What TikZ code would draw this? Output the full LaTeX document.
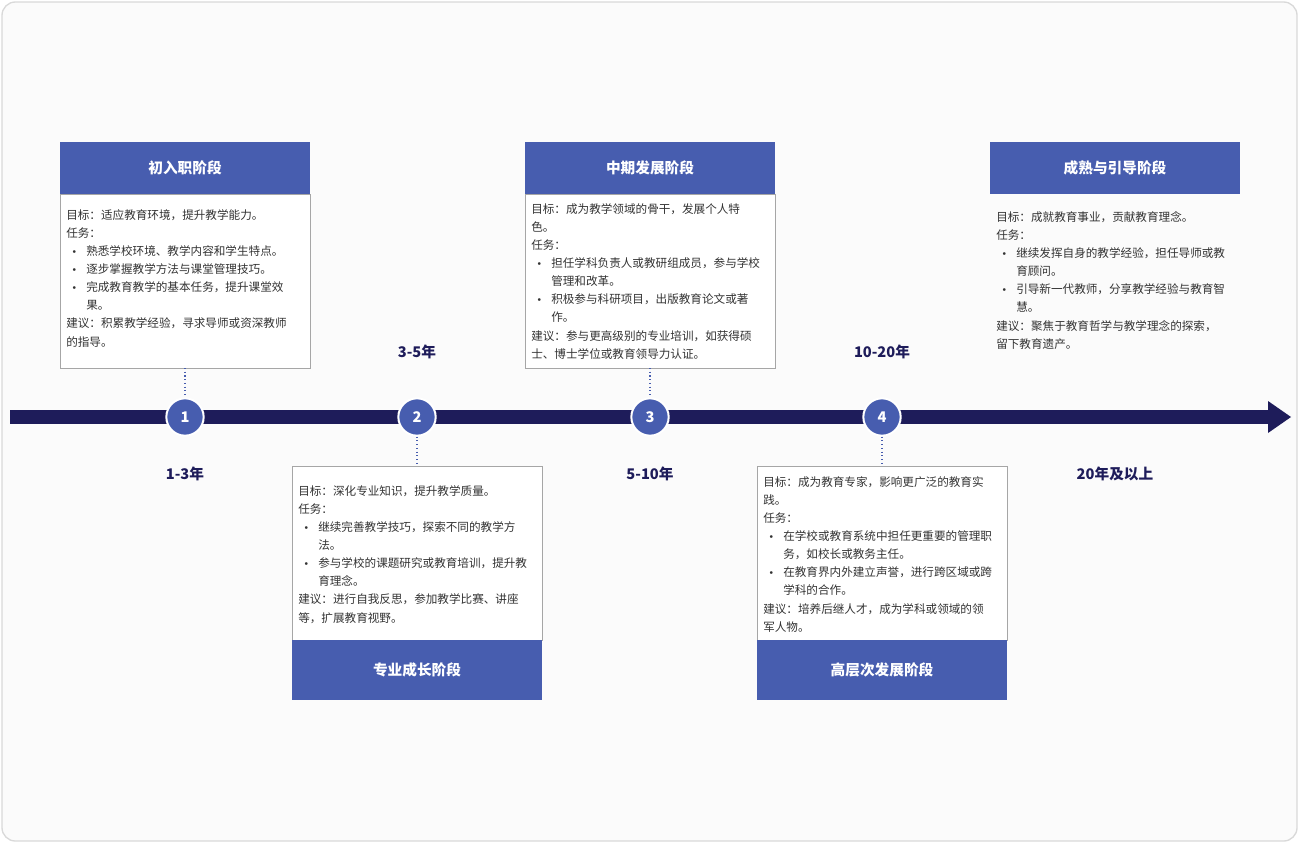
\documentclass[tikz,border=0pt]{standalone}
\usepackage{fontspec}
\setmainfont{Noto Sans CJK SC}
\newfontfamily\bulfont{DejaVu Sans}
\definecolor{hdr}{HTML}{475DAF}
\definecolor{navy}{HTML}{1E1C5A}
\definecolor{txt}{HTML}{333333}
\newcommand{\bl}{\makebox[15pt][l]{\hspace{4pt}{\bulfont\fontsize{7}{8}\selectfont•}}}
\newcommand{\ct}{\hspace*{15pt}}
\tikzset{
 hbox/.style={fill=hdr,draw=hdr,text=white,font=\fontsize{11}{13}\selectfont\bfseries},
 bbox/.style={fill=white,draw=gray!70,line width=0.6pt},
 body/.style={anchor=north west,align=left,text=txt,inner sep=0pt,font=\fontsize{8.7}{13.6}\selectfont},
 yr/.style={text=navy,font=\fontsize{11}{13}\selectfont\bfseries},
 num/.style={circle,fill=hdr,draw=white,line width=1.5pt,minimum size=28pt,text=white,font=\fontsize{11}{13}\selectfont\bfseries},
 dl/.style={draw=hdr,dotted,line width=0.8pt}
}
\begin{document}
\begin{tikzpicture}[x=0.75pt,y=-0.75pt]
\useasboundingbox (0,0) rectangle (1299,843);
\draw[fill=gray!3,draw=gray!30,line width=1pt,rounded corners=10pt] (2,2) rectangle (1297,841);
% timeline
\fill[navy] (10,410) rectangle (1270,424);
\fill[navy] (1268,401) -- (1291,417) -- (1268,433) -- cycle;
% box1
\draw[bbox] (60,194) rectangle (310,368);
\fill[hdr] (60,142) rectangle (310,194);
\node[hbox] (h1) at (185,168) {初入职阶段};
\node[body] (b1) at (66,209) {目标：适应教育环境，提升教学能力。\\任务：\\\bl 熟悉学校环境、教学内容和学生特点。\\\bl 逐步掌握教学方法与课堂管理技巧。\\\bl 完成教育教学的基本任务，提升课堂效\\\ct 果。\\建议：积累教学经验，寻求导师或资深教师\\的指导。};
% box2
\draw[bbox] (292,466) rectangle (542,640);
\fill[hdr] (292,640) rectangle (542,700);
\node[hbox] (h2) at (417,670) {专业成长阶段};
\node[body] (b2) at (298,485) {目标：深化专业知识，提升教学质量。\\任务：\\\bl 继续完善教学技巧，探索不同的教学方\\\ct 法。\\\bl 参与学校的课题研究或教育培训，提升教\\\ct 育理念。\\建议：进行自我反思，参加教学比赛、讲座\\等，扩展教育视野。};
% box3
\draw[bbox] (525,194) rectangle (775,368);
\fill[hdr] (525,142) rectangle (775,194);
\node[hbox] (h3) at (650,168) {中期发展阶段};
\node[body] (b3) at (531,203) {目标：成为教学领域的骨干，发展个人特\\色。\\任务：\\\bl 担任学科负责人或教研组成员，参与学校\\\ct 管理和改革。\\\bl 积极参与科研项目，出版教育论文或著\\\ct 作。\\建议：参与更高级别的专业培训，如获得硕\\士、博士学位或教育领导力认证。};
% box4
\draw[bbox] (757,466) rectangle (1007,640);
\fill[hdr] (757,640) rectangle (1007,700);
\node[hbox] (h4) at (882,670) {高层次发展阶段};
\node[body] (b4) at (763,476) {目标：成为教育专家，影响更广泛的教育实\\践。\\任务：\\\bl 在学校或教育系统中担任更重要的管理职\\\ct 务，如校长或教务主任。\\\bl 在教育界内外建立声誉，进行跨区域或跨\\\ct 学科的合作。\\建议：培养后继人才，成为学科或领域的领\\军人物。};
% box5
\fill[hdr] (990,142) rectangle (1240,194);
\node[hbox] (h5) at (1115,168) {成熟与引导阶段};
\node[body] (b5) at (996,211) {目标：成就教育事业，贡献教育理念。\\任务：\\\bl 继续发挥自身的教学经验，担任导师或教\\\ct 育顾问。\\\bl 引导新一代教师，分享教学经验与教育智\\\ct 慧。\\建议：聚焦于教育哲学与教学理念的探索，\\留下教育遗产。};
% circles
\node[num] (c1) at (185,417) {1};
\node[num] (c2) at (417,417) {2};
\node[num] (c3) at (650,417) {3};
\node[num] (c4) at (882,417) {4};
\coordinate (t1) at (185,368); \coordinate (t2) at (417,466);
\coordinate (t3) at (650,368); \coordinate (t4) at (882,466);
\draw[dl] (t1) -- (c1.north); \draw[dl] (c2.south) -- (t2);
\draw[dl] (t3) -- (c3.north); \draw[dl] (c4.south) -- (t4);
% years
\node[yr] (y1) at (185,474) {1-3年};
\node[yr] (y2) at (417,352) {3-5年};
\node[yr] (y3) at (650,474) {5-10年};
\node[yr] (y4) at (882,352) {10-20年};
\node[yr] (y5) at (1115,474) {20年及以上};
\end{tikzpicture}
\end{document}
